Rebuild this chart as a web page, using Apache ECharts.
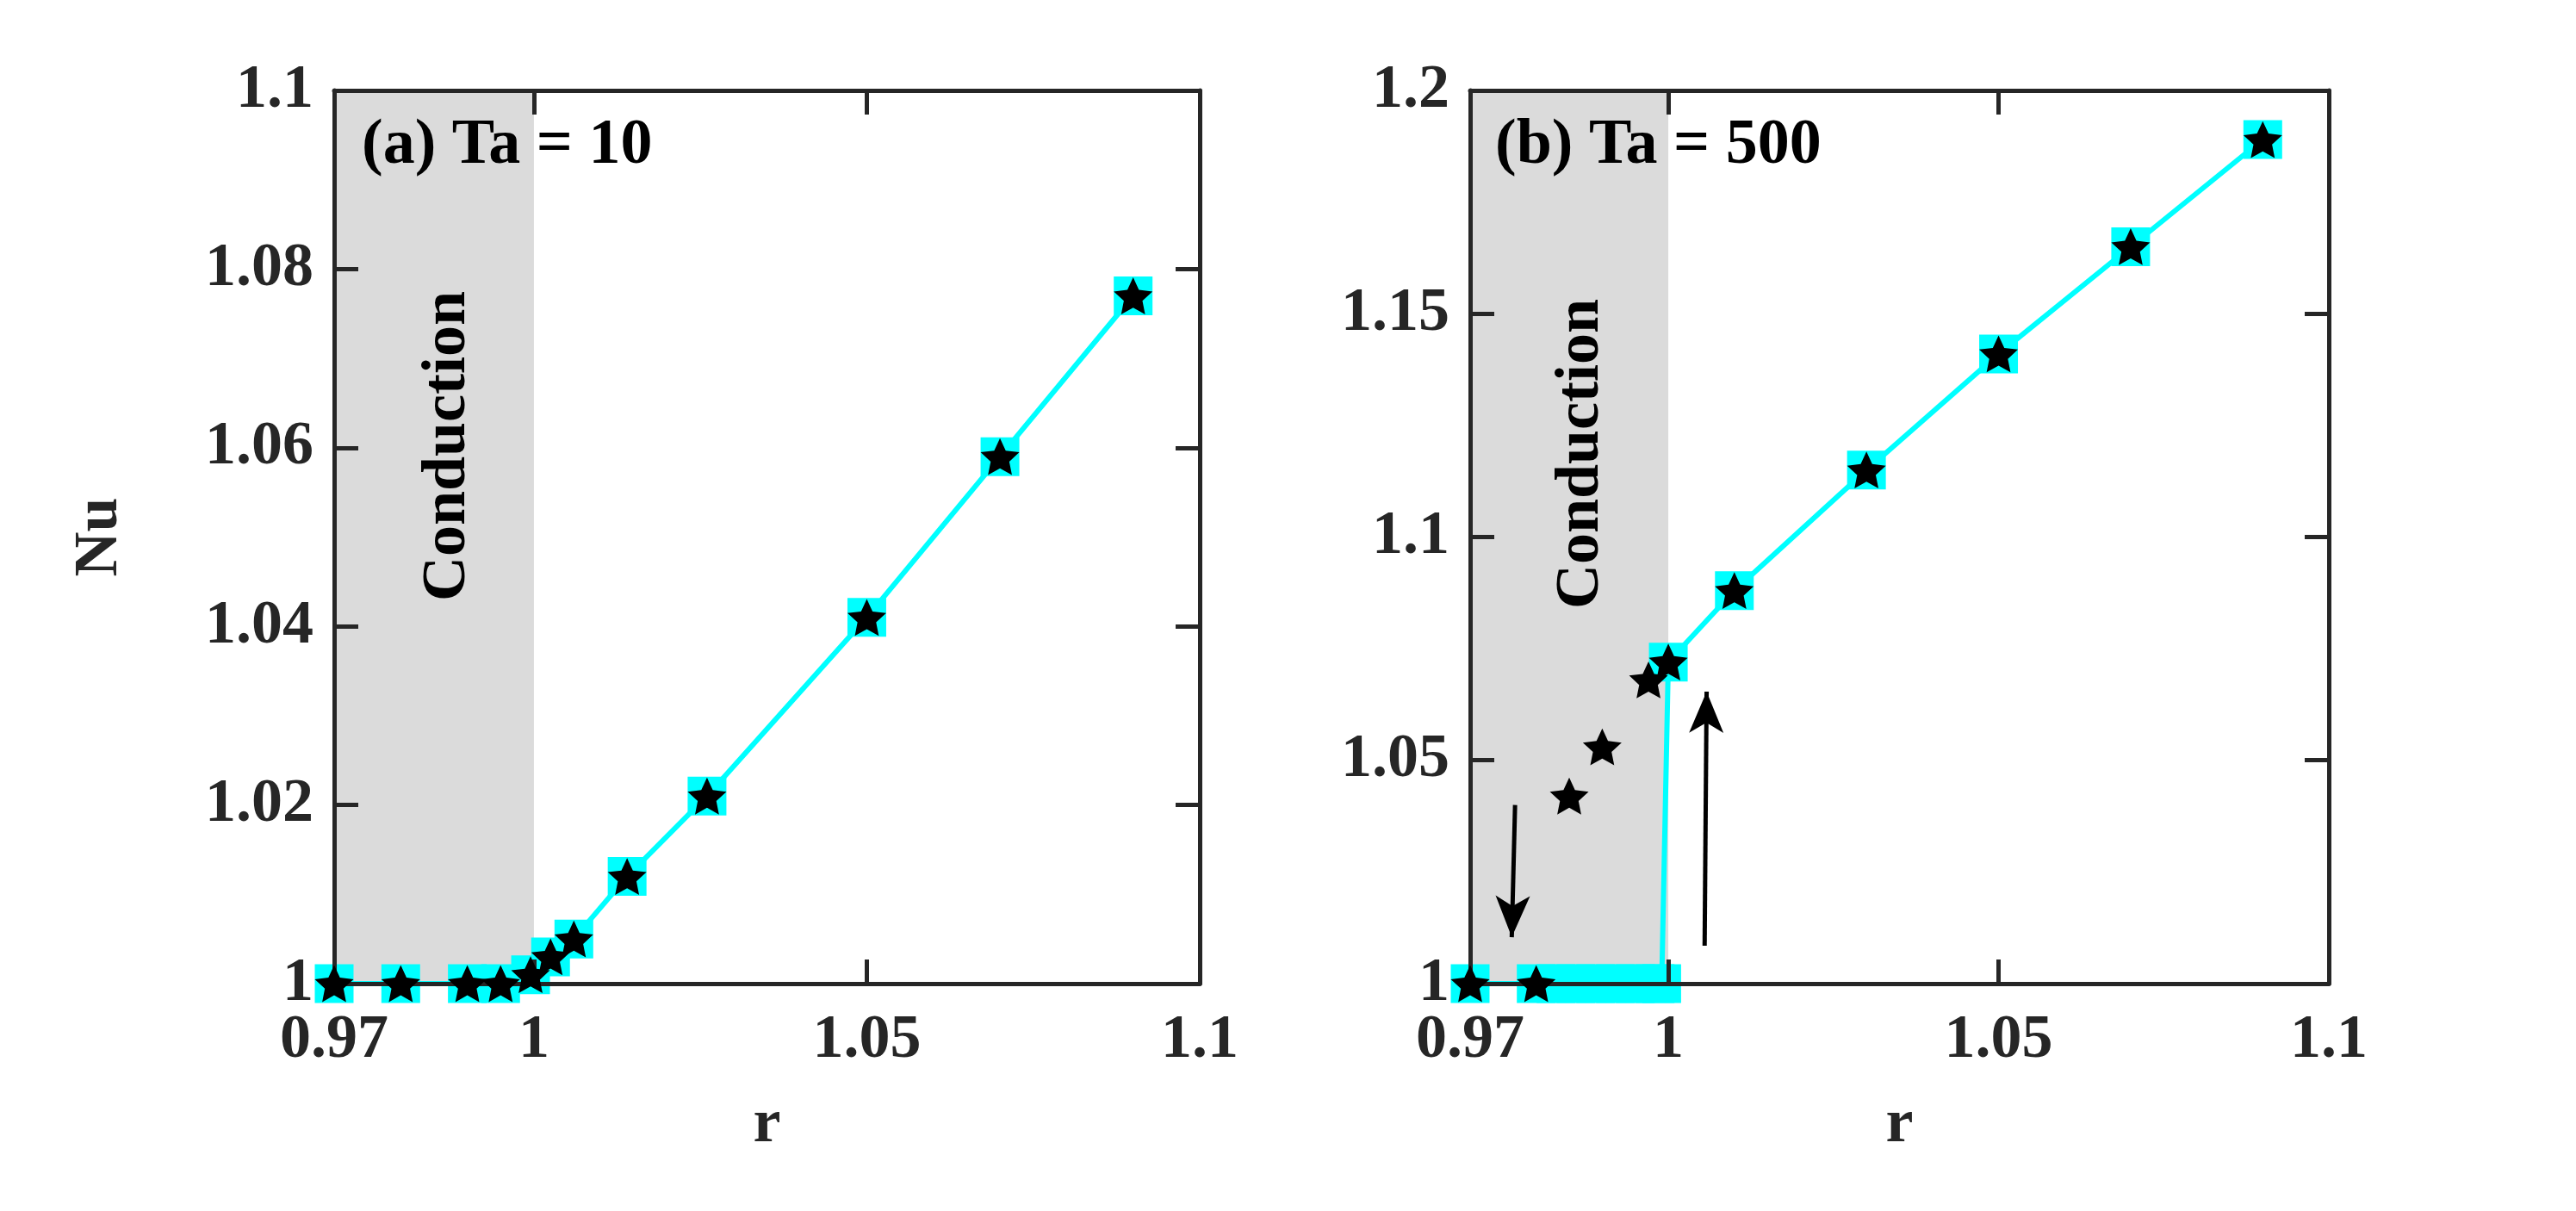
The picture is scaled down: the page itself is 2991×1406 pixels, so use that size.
<!DOCTYPE html>
<html>
<head>
<meta charset="utf-8">
<script src="https://cdn.jsdelivr.net/npm/echarts@6/dist/echarts.min.js"></script>
<style>
    html, body { margin: 0; padding: 0; background: #ffffff; }
    #echart { width: 2991px; height: 1406px; }
</style>
</head>
<body>
<div id="echart"></div>
<script>
// panel (a) Ta = 10
const rA = [0.97, 0.98, 0.99, 0.995, 0.9995, 1.0025, 1.006, 1.014, 1.026, 1.05, 1.07, 1.09];
const nuA = [1.0, 1.0, 1.0, 1.0, 1.001, 1.003, 1.005, 1.012, 1.021, 1.041, 1.059, 1.077];

// panel (b) Ta = 500, cyan branch
const rB_line = [0.97, 0.98, 0.983, 0.986, 0.989, 0.992, 0.995, 0.998, 0.999, 1.0, 1.01, 1.03, 1.05, 1.07, 1.09];
const nuB_line = [1.0, 1.0, 1.0, 1.0, 1.0, 1.0, 1.0, 1.0, 1.0, 1.072, 1.088, 1.115, 1.141, 1.165, 1.189];

// panel (b) stars
const rB_star = [0.97, 0.98, 0.985, 0.99, 0.997, 1.0, 1.01, 1.03, 1.05, 1.07, 1.09];
const nuB_star = [1.0, 1.0, 1.042, 1.053, 1.068, 1.072, 1.088, 1.115, 1.141, 1.165, 1.189];

// tick labels
const xTicks = [0.97, 1, 1.05, 1.1];

// arrows in panel (b): [r, Nu] start -> end
const arrowDown = [[0.9768, 1.040], [0.9763, 1.0104]];
const arrowUp = [[1.0055, 1.0085], [1.0058, 1.0654]];

const conductionEnd = 1.0;

const STAR = 'path://M50 0 L64.11 30.58 L97.55 34.55 L72.83 57.42 L79.39 90.45 L50 74 L20.61 90.45 L27.17 57.42 L2.45 34.55 L35.89 30.58 Z';
const FONT = 'Liberation Serif';
const AXIS_COLOR = '#262626';

function pairs(xs, ys) {
    return xs.map(function (x, i) { return [x, ys[i]]; });
}

function fmt(v) {
    return String(+v.toFixed(3));
}

function bottomAxis(gridIndex) {
    return {
        type: 'value', gridIndex: gridIndex, position: 'bottom', z: 3,
        min: 0.97, max: 1.1,
        name: 'r', nameLocation: 'middle', nameGap: 128,
        nameTextStyle: { fontFamily: FONT, fontWeight: 'bold', fontSize: 72, color: AXIS_COLOR },
        axisLine: { show: true, onZero: false, lineStyle: { color: AXIS_COLOR, width: 5 } },
        axisTick: { show: true, inside: true, length: 28, customValues: xTicks, lineStyle: { color: AXIS_COLOR, width: 5 } },
        axisLabel: { show: true, margin: 30, customValues: xTicks, formatter: fmt,
            fontFamily: FONT, fontWeight: 'bold', fontSize: 72, color: AXIS_COLOR },
        splitLine: { show: false }
    };
}

function topAxis(gridIndex) {
    return {
        type: 'value', gridIndex: gridIndex, position: 'top', z: 3,
        min: 0.97, max: 1.1,
        axisLine: { show: true, onZero: false, lineStyle: { color: AXIS_COLOR, width: 5 } },
        axisTick: { show: true, inside: true, length: 28, customValues: xTicks, lineStyle: { color: AXIS_COLOR, width: 5 } },
        axisLabel: { show: false },
        splitLine: { show: false }
    };
}

function leftAxis(gridIndex, max, interval, withName) {
    return {
        type: 'value', gridIndex: gridIndex, position: 'left', z: 3,
        min: 1, max: max, interval: interval,
        name: withName ? 'Nu' : '', nameLocation: 'middle', nameGap: 236,
        nameTextStyle: { fontFamily: FONT, fontWeight: 'bold', fontSize: 72, color: AXIS_COLOR },
        axisLine: { show: true, onZero: false, lineStyle: { color: AXIS_COLOR, width: 5 } },
        axisTick: { show: true, inside: true, length: 28, lineStyle: { color: AXIS_COLOR, width: 5 } },
        axisLabel: { show: true, margin: 24, formatter: fmt,
            fontFamily: FONT, fontWeight: 'bold', fontSize: 72, color: AXIS_COLOR },
        splitLine: { show: false }
    };
}

function rightAxis(gridIndex, max, interval) {
    return {
        type: 'value', gridIndex: gridIndex, position: 'right', z: 3,
        min: 1, max: max, interval: interval,
        axisLine: { show: true, onZero: false, lineStyle: { color: AXIS_COLOR, width: 5 } },
        axisTick: { show: true, inside: true, length: 28, lineStyle: { color: AXIS_COLOR, width: 5 } },
        axisLabel: { show: false },
        splitLine: { show: false }
    };
}

function shadeSeries(xIdx, yIdx) {
    return {
        type: 'line', xAxisIndex: xIdx, yAxisIndex: yIdx, data: [], z: 1, silent: true,
        markArea: {
            silent: true,
            itemStyle: { color: '#dbdbdb' },
            data: [[{ xAxis: 0.97, yAxis: 'min' }, { xAxis: conductionEnd, yAxis: 'max' }]]
        }
    };
}

function cyanSeries(xIdx, yIdx, data) {
    return {
        type: 'line', xAxisIndex: xIdx, yAxisIndex: yIdx, data: data, z: 2, clip: false,
        symbol: 'rect', symbolSize: 45,
        itemStyle: { color: '#00ffff', opacity: 1 },
        lineStyle: { color: '#00ffff', width: 6 },
        animation: false
    };
}

function starSeries(xIdx, yIdx, data) {
    return {
        type: 'scatter', xAxisIndex: xIdx, yAxisIndex: yIdx, data: data, z: 4, clip: false,
        symbol: STAR, symbolSize: 45, symbolKeepAspect: true,
        itemStyle: { color: '#000000', opacity: 1 },
        animation: false
    };
}

var option = {
    backgroundColor: '#ffffff',
    animation: false,
    grid: [
        { left: 388, top: 105, width: 1005, height: 1037 },
        { left: 1707, top: 105, width: 997, height: 1037 }
    ],
    xAxis: [bottomAxis(0), topAxis(0), bottomAxis(1), topAxis(1)],
    yAxis: [
        leftAxis(0, 1.1, 0.02, true), rightAxis(0, 1.1, 0.02),
        leftAxis(1, 1.2, 0.05, false), rightAxis(1, 1.2, 0.05)
    ],
    series: [
        shadeSeries(0, 0),
        cyanSeries(0, 0, pairs(rA, nuA)),
        starSeries(0, 0, pairs(rA, nuA)),
        shadeSeries(2, 2),
        cyanSeries(2, 2, pairs(rB_line, nuB_line)),
        starSeries(2, 2, pairs(rB_star, nuB_star)),
        {
            type: 'line', xAxisIndex: 2, yAxisIndex: 2, data: [], z: 5, silent: true,
            markLine: {
                silent: true,
                symbol: ['none', 'arrow'],
                symbolSize: [30, 48],
                label: { show: false },
                lineStyle: { color: '#000000', width: 5, type: 'solid' },
                data: [
                    [{ coord: arrowDown[0] }, { coord: arrowDown[1] }],
                    [{ coord: arrowUp[0] }, { coord: arrowUp[1] }]
                ]
            }
        }
    ],
    graphic: [
        { type: 'text', left: 420, top: 133, z: 10,
          style: { text: '(a) Ta = 10', font: 'bold 74px "Liberation Serif"', fill: '#000000' } },
        { type: 'text', left: 1736, top: 133, z: 10,
          style: { text: '(b) Ta = 500', font: 'bold 74px "Liberation Serif"', fill: '#000000' } },
        { type: 'text', x: 484, y: 518, rotation: Math.PI / 2, z: 10,
          style: { text: 'Conduction', font: 'bold 72px "Liberation Serif"', fill: '#000000', align: 'center', verticalAlign: 'top' } },
        { type: 'text', x: 1800, y: 527, rotation: Math.PI / 2, z: 10,
          style: { text: 'Conduction', font: 'bold 72px "Liberation Serif"', fill: '#000000', align: 'center', verticalAlign: 'top' } }
    ]
};

var chart = echarts.init(document.getElementById('echart'));
chart.setOption(option);
</script>
</body>
</html>
